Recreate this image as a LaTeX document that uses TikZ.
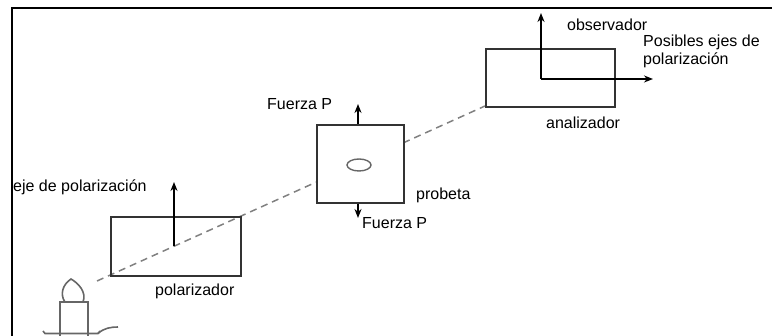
\documentclass[tikz,border=0pt]{standalone}
\usepackage{fontspec}
\setmainfont{Liberation Sans}
\usetikzlibrary{arrows.meta}
\begin{document}
\begin{tikzpicture}[x=1pt,y=-1pt,
  frame/.style={line width=2pt,black},
  box/.style={draw=black!80,line width=1.9pt,rectangle,inner sep=0pt,anchor=north west},
  beam/.style={draw=black!50,line width=1.5pt,dash pattern=on 7pt off 5pt},
  axis/.style={line width=1.9pt,black,-{Stealth[length=9pt,width=7pt]}},
  lbl/.style={font=\fontsize{16}{18}\selectfont,inner sep=0pt,anchor=west,text=black},
  candle/.style={draw=black!60,line width=1.6pt}]
\useasboundingbox (0,0) rectangle (772,336);

% outer frame (open at right and bottom)
\draw[frame] (11.5,336) -- (11.5,8) -- (772,8);

% light path from the candle to the analyser
\coordinate (src) at (97,281);
\coordinate (anaSW) at (485,106);
\draw[beam] (src) -- (anaSW);

% polariser
\node[box,minimum width=130pt,minimum height=59pt] (pol) at (110,216) {};
\coordinate (polO) at (174,246);
\coordinate (polT) at (174,182);
\draw[axis] (polO) -- (polT);
\node[lbl] (ejeLbl) at (13,187) {eje de polarización};
\node[lbl] (polLbl) at (155,291) {polarizador};

% specimen under load
\node[box,fill=white,minimum width=87pt,minimum height=78pt] (prob) at (316,124) {};
\draw[draw=black!60,line width=1.4pt] (359,165) ellipse (12pt and 6pt);
\coordinate (fTop) at (358,104);
\coordinate (fBot) at (358,218);
\draw[axis] (prob.north -| fTop) -- (fTop);
\draw[axis] (prob.south -| fBot) -- (fBot);
\node[lbl] (fTopLbl) at (267,104) {Fuerza P};
\node[lbl] (fBotLbl) at (362,223) {Fuerza P};
\node[lbl] (probLbl) at (416,195) {probeta};

% analyser with its possible axes
\node[box,minimum width=129pt,minimum height=58pt] (ana) at (485,48) {};
\coordinate (anaO) at (541,79);
\coordinate (anaT) at (541,13);
\coordinate (anaR) at (653,79);
\draw[axis] (anaO) -- (anaT);
\draw[axis] (anaO) -- (anaR);
\node[lbl] (obsLbl) at (567,25) {observador};
\node[lbl,align=left] (ejesLbl) at (643,51) {Posibles ejes de\\polarización};
\node[lbl] (anaLbl) at (546,123) {analizador};

% candle
\draw[candle] (60,336) -- (60,302) -- (88,302) -- (88,336);
\draw[candle] (65,302) .. controls (60,295) and (62,285) .. (71,279)
  .. controls (78,283) and (87,292) .. (83,302);
\draw[candle] (43,331) -- (45,333.5) -- (98,333.5) -- (100,331);
\draw[candle] (98,333.5) .. controls (104,328) and (111,327) .. (118,327);
\end{tikzpicture}
\end{document}
